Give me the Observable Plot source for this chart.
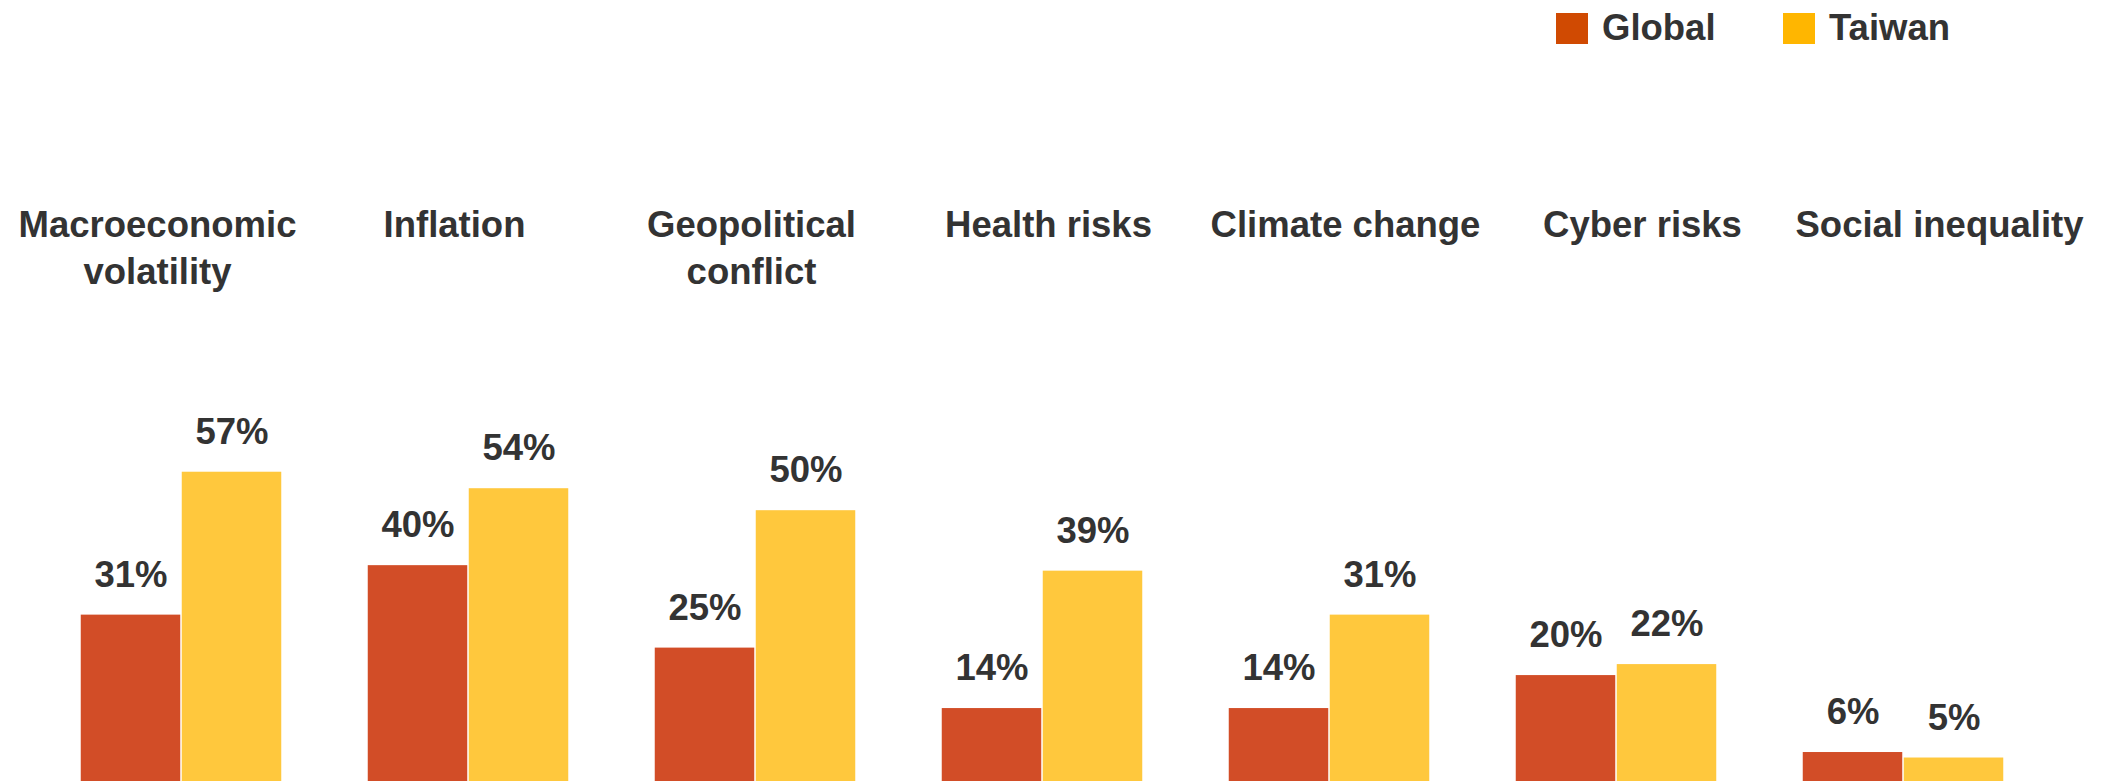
<!DOCTYPE html>
<html>
<head>
<meta charset="utf-8">
<script src="https://cdn.jsdelivr.net/npm/d3@7"></script>
<script src="https://cdn.jsdelivr.net/npm/@observablehq/plot@0.6"></script>
<style>
  html, body { margin: 0; padding: 0; background: #fff; overflow: hidden; }
  #wrap { position: relative; width: 2113px; height: 781px; font-family: "Liberation Sans", Arial, sans-serif; font-weight: bold; color: #333; }
  #wrap > svg, #wrap > figure { position: absolute; left: 0; top: 0; margin: 0; }
  .leg { position: absolute; top: 10px; display: flex; align-items: center; font-size: 36.5px; line-height: 1; }
  .sw { width: 32px; height: 31px; display: inline-block; margin-right: 14px; }
</style>
</head>
<body>
<div id="wrap"></div>
<script>
const categories = ["Macroeconomic volatility", "Inflation", "Geopolitical conflict", "Health risks", "Climate change", "Cyber risks", "Social inequality"];
const categoryLabels = ["Macroeconomic\nvolatility", "Inflation", "Geopolitical\nconflict", "Health risks", "Climate change", "Cyber risks", "Social inequality"];
const seriesNames = ["Global", "Taiwan"];
const globalValues = [31, 40, 25, 14, 14, 20, 6];
const taiwanValues = [57, 54, 50, 39, 31, 22, 5];

const barColors = ["#D24D27", "#FFC83D"];
const legendColors = ["#D04A02", "#FFB600"];
const textColor = "#333333";
const font = "'Liberation Sans', Arial, sans-serif";

const rows = [];
categories.forEach((c, i) => {
  rows.push({category: c, series: "Global", value: globalValues[i]});
  rows.push({category: c, series: "Taiwan", value: taiwanValues[i]});
});
const labelRows = categories.map((c, i) => ({category: c, label: categoryLabels[i]}));

const wrap = document.getElementById("wrap");

// Category label row
const labelPlot = Plot.plot({
  width: 2113,
  height: 320,
  marginLeft: 155.6,
  marginRight: 171.8,
  marginTop: 204,
  marginBottom: 10,
  style: {fontFamily: font, background: "transparent", overflow: "visible"},
  x: {type: "point", domain: categories, padding: 0, axis: null},
  marks: [
    Plot.text(labelRows, {
      x: "category",
      text: "label",
      frameAnchor: "top",
      lineAnchor: "top",
      lineHeight: 1.27,
      fontSize: 36.5,
      fontWeight: "bold",
      fill: textColor
    })
  ]
});

// Bars
const barPlot = Plot.plot({
  width: 2113,
  height: 800,
  marginLeft: 78,
  marginRight: 108,
  marginTop: 235.4,
  marginBottom: 15,
  style: {fontFamily: font, background: "transparent", overflow: "visible"},
  fx: {domain: categories, paddingInner: 0.292, paddingOuter: 0, axis: null},
  x: {domain: seriesNames, padding: 0, axis: null},
  y: {domain: [0, 100], axis: null},
  color: {domain: seriesNames, range: barColors},
  marks: [
    Plot.barY(rows, {fx: "category", x: "series", y: "value", fill: "series", insetLeft: 0.75, insetRight: 0.75}),
    Plot.text(rows, {
      fx: "category", x: "series", y: "value",
      text: d => d.value + "%",
      lineAnchor: "bottom",
      dy: -28.5,
      fontSize: 36.5,
      fontWeight: "bold",
      fill: textColor
    })
  ]
});

wrap.appendChild(barPlot);
wrap.appendChild(labelPlot);

// Legend
const legendX = [1556, 1783];
seriesNames.forEach((s, i) => {
  const d = document.createElement("div");
  d.className = "leg";
  d.style.left = legendX[i] + "px";
  const sw = document.createElement("span");
  sw.className = "sw";
  sw.style.background = legendColors[i];
  const t = document.createElement("span");
  t.textContent = s;
  d.appendChild(sw);
  d.appendChild(t);
  wrap.appendChild(d);
});
</script>
</body>
</html>
